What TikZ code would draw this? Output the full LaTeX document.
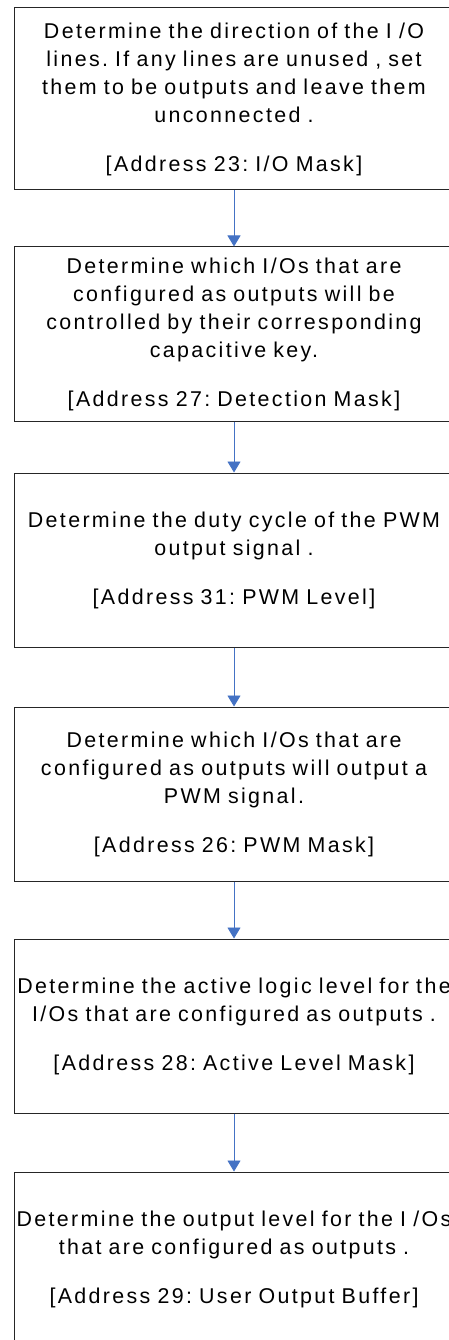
\documentclass[tikz,border=0pt]{standalone}
\usepackage{fontspec}
\setmainfont{Liberation Sans}[LetterSpace=11]
\usetikzlibrary{arrows.meta,positioning}
\definecolor{flowblue}{RGB}{68,114,196}

\begin{document}
\frenchspacing
\begin{tikzpicture}[x=1pt, y=1pt,
    stepbox/.style={draw=black!85, line width=1pt, minimum width=440pt,
      minimum height=174pt, text width=436pt, align=center, inner sep=0pt,
      font=\fontsize{21.4}{28}\selectfont},
    flow/.style={draw=flowblue, line width=0.9pt, -{Triangle[width=13pt,length=11pt]}}
  ]
  \useasboundingbox (0,0) rectangle (449,-1340);

  % Configuration steps
  \node[stepbox, minimum height=182pt] (dir) at (234,-99)
    {Determine the direction of the I /O\\ lines. If any lines are unused , set\\
     them to be outputs and leave them\\ unconnected .\\[21pt] [Address 23: I/O Mask]};
  \node[stepbox, below=56pt of dir] (det)
    {Determine which I/Os that are\\ configured as outputs will be\\
     controlled by their corresponding\\ capacitive key.\\[21pt] [Address 27: Detection Mask]};
  \node[stepbox, below=51pt of det] (lvl)
    {Determine the duty cycle of the PWM\\ output signal .\\[21pt] [Address 31: PWM Level]};
  \node[stepbox, below=59pt of lvl] (pwm)
    {Determine which I/Os that are\\ configured as outputs will output a\\
     PWM signal.\\[21pt] [Address 26: PWM Mask]};
  \node[stepbox, below=57pt of pwm] (act)
    {Determine the active logic level for the\\ I/Os that are configured as outputs .\\[21pt]
     [Address 28: Active Level Mask]};
  \node[stepbox, below=58pt of act] (out)
    {Determine the output level for the I /Os\\ that are configured as outputs .\\[21pt]
     [Address 29: User Output Buffer]};

  % Arrows
  \draw[flow] (dir) -- (det);
  \draw[flow] (det) -- (lvl);
  \draw[flow] (lvl) -- (pwm);
  \draw[flow] (pwm) -- (act);
  \draw[flow] (act) -- (out);
\end{tikzpicture}
\end{document}
